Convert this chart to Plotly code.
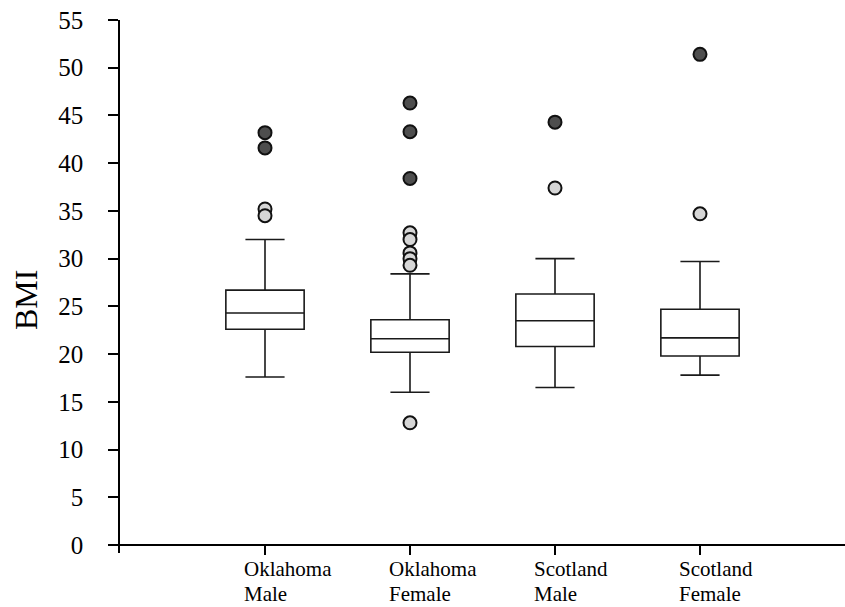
import plotly.graph_objects as go

# ---- data ----
groups = ["Oklahoma Male", "Oklahoma Female", "Scotland Male", "Scotland Female"]
label_line1 = ["Oklahoma", "Oklahoma", "Scotland", "Scotland"]
label_line2 = ["Male", "Female", "Male", "Female"]
q1 = [22.6, 20.2, 20.8, 19.8]
median = [24.3, 21.6, 23.5, 21.7]
q3 = [26.7, 23.6, 26.3, 24.7]
lower_whisker = [17.6, 16.0, 16.5, 17.8]
upper_whisker = [32.0, 28.4, 30.0, 29.7]

# far outliers (dark circles) and near outliers (light circles)
far_outliers = [
    [43.2, 41.6],
    [46.3, 43.3, 38.4],
    [44.3],
    [51.4],
]
near_outliers = [
    [35.2, 34.5],
    [32.7, 32.0, 30.6, 30.0, 29.3, 12.8],
    [37.4],
    [34.7],
]
y_ticks = [0, 5, 10, 15, 20, 25, 30, 35, 40, 45, 50, 55]

FONT = "Liberation Serif, 'Times New Roman', serif"

fig = go.Figure()
fig.add_trace(go.Box(
    x=groups, q1=q1, median=median, q3=q3,
    lowerfence=lower_whisker, upperfence=upper_whisker,
    boxpoints=False, width=0.54, whiskerwidth=0.5,
    fillcolor="white", line=dict(color="#1a1a1a", width=1.6),
    showlegend=False, hoverinfo="skip",
))

fx, fy, nx, ny = [], [], [], []
for g, vals in zip(groups, far_outliers):
    fx += [g] * len(vals)
    fy += vals
for g, vals in zip(groups, near_outliers):
    nx += [g] * len(vals)
    ny += vals

fig.add_trace(go.Scatter(
    x=nx, y=ny, mode="markers", showlegend=False, hoverinfo="skip",
    marker=dict(size=13, color="#d6d6d6", line=dict(color="#111111", width=2)),
))
fig.add_trace(go.Scatter(
    x=fx, y=fy, mode="markers", showlegend=False, hoverinfo="skip",
    marker=dict(size=13, color="#4e4e4e", line=dict(color="#111111", width=2)),
))

y_lo = -0.838
fig.update_layout(
    width=845, height=607,
    margin=dict(l=120, r=0, t=20, b=54),
    paper_bgcolor="white", plot_bgcolor="white",
    font=dict(family=FONT, color="black"),
    xaxis=dict(
        type="category", categoryorder="array", categoryarray=groups,
        range=[-1.0, 4.0], showgrid=False, zeroline=False,
        showline=True, linecolor="black", linewidth=1.6,
        ticks="outside", ticklen=9, tickcolor="black", tickwidth=1.5,
        showticklabels=False,
        anchor="free", position=-y_lo / (55 - y_lo),
    ),
    yaxis=dict(
        range=[y_lo, 55], tickvals=y_ticks, showgrid=False, zeroline=False,
        showline=True, linecolor="black", linewidth=1.6,
        ticks="outside", ticklen=10, tickcolor="black", tickwidth=1.5,
        tickfont=dict(family=FONT, size=25, color="black"),
        ticklabelstandoff=20,
    ),
)

# category labels, left-aligned just left of each tick (two lines each)
for g, l1, l2 in zip(groups, label_line1, label_line2):
    for txt, ypx in ((l1, 569), (l2, 594)):
        fig.add_annotation(
            x=g, xref="x", y=(553 - ypx) / 533, yref="paper",
            text=txt, showarrow=False, xanchor="left", yanchor="middle",
            align="left", xshift=-23,
            font=dict(family=FONT, size=21, color="black"),
        )

fig.add_annotation(
    x=(26 - 120) / 725, xref="paper", y=(553 - 300) / 533, yref="paper",
    text="BMI", showarrow=False, textangle=-90,
    xanchor="center", yanchor="middle",
    font=dict(family=FONT, size=32, color="black"),
)

fig.write_html(
    "out.html",
    config={"displayModeBar": False},
    post_script="document.body.style.margin='0';document.body.style.overflow='hidden';",
)
